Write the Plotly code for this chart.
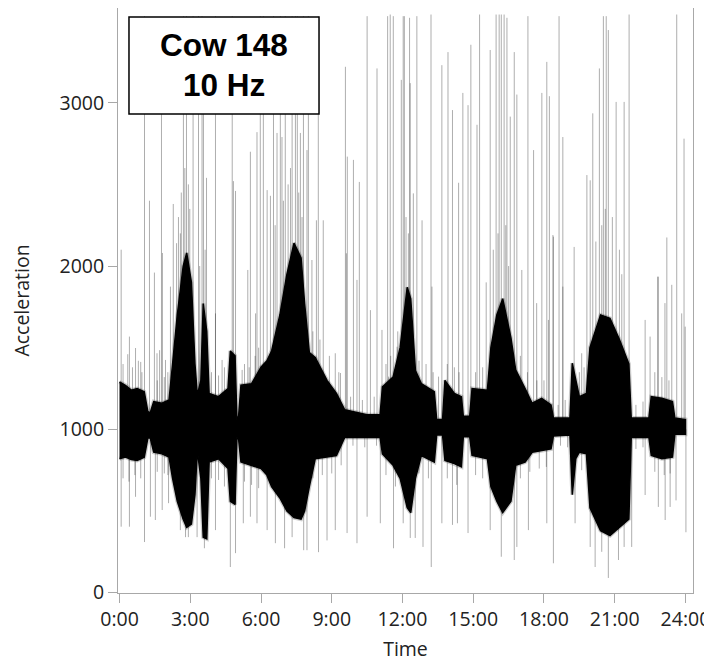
import plotly.graph_objects as go

# ---- data (hours of day, acceleration) ----
band_t = [0.00, 0.25, 0.50, 0.75, 1.05, 1.20, 1.30, 1.45, 1.80, 2.10, 2.25, 2.45, 2.70, 2.85, 3.05, 3.20,
          3.30, 3.45, 3.55, 3.70, 3.80, 4.20, 4.60, 4.70, 4.90, 4.98, 5.05, 5.15, 5.60, 6.00, 6.25, 6.45,
          6.80, 7.10, 7.40, 7.70, 7.85, 8.05, 8.30, 8.80, 9.20, 9.55, 10.50, 11.05, 11.15, 11.60, 11.90,
          12.20, 12.35, 12.55, 12.80, 13.35, 13.45, 13.70, 13.80, 14.20, 14.50, 14.58, 14.85, 14.95, 15.60,
          15.75, 16.00, 16.25, 16.60, 16.80, 17.20, 17.50, 17.90, 18.30, 18.40, 19.10, 19.20, 19.35, 19.50,
          19.80, 19.95, 20.40, 20.80, 21.20, 21.60, 21.70, 22.45, 22.55, 23.00, 23.45, 23.55, 24.00]
band_hi = [1290, 1270, 1240, 1250, 1230, 1110, 1100, 1170, 1160, 1180, 1400, 1700, 2000, 2080, 1900, 1400,
           1210, 1300, 1770, 1600, 1220, 1200, 1250, 1480, 1450, 1060, 1080, 1270, 1280, 1380, 1420, 1480,
           1700, 1950, 2140, 2050, 1770, 1470, 1440, 1300, 1220, 1120, 1090, 1090, 1260, 1320, 1500,
           1870, 1800, 1360, 1280, 1230, 1060, 1060, 1300, 1220, 1200, 1080, 1080, 1250, 1240,
           1500, 1700, 1800, 1560, 1364, 1250, 1160, 1190, 1150, 1070, 1070, 1405, 1300, 1200,
           1220, 1500, 1700, 1680, 1550, 1400, 1070, 1070, 1200, 1190, 1170, 1070, 1060]
band_lo = [820, 830, 815, 810, 830, 945, 950, 860, 850, 830, 700, 560, 450, 400, 420, 600,
           870, 700, 340, 330, 800, 820, 760, 560, 540, 950, 940, 800, 780, 760, 720, 650,
           580, 500, 460, 450, 500, 650, 820, 830, 840, 950, 950, 950, 850, 780, 700,
           520, 490, 700, 840, 800, 965, 965, 810, 790, 770, 955, 955, 840, 820,
           650, 560, 490, 560, 780, 800, 860, 870, 880, 960, 965, 600, 820, 860,
           850, 520, 380, 350, 400, 450, 950, 950, 840, 820, 830, 970, 970]

# tall spikes above the band
up_t = [0.07, 1.06, 1.27, 1.48, 1.78, 1.82, 2.28, 2.42, 2.58, 2.71, 2.84, 2.92, 3.12, 3.35, 3.50, 3.56,
        3.69, 4.07, 4.78, 4.83, 4.92, 5.55, 5.83, 5.97, 6.10, 6.26, 6.40, 6.53, 6.68, 6.82, 6.89, 7.03,
        7.32, 7.46, 7.54, 7.67, 7.80, 7.95, 8.01, 8.35, 8.43, 8.64, 9.58, 9.66, 9.92, 10.17, 10.50,
        10.92, 11.37, 11.48, 11.61, 11.95, 12.03, 12.08, 12.30, 12.33, 12.46, 12.61, 12.83, 13.21,
        13.67, 13.93, 14.12, 14.38, 14.56, 14.78, 14.90, 15.16, 15.27, 15.55, 15.72, 15.97, 16.10,
        16.19, 16.31, 16.43, 16.57, 16.74, 16.85, 17.32, 17.56, 17.91, 18.12, 18.23, 18.38, 18.64,
        18.80, 19.28, 19.82, 19.96, 20.07, 20.35, 20.52, 20.64, 20.73, 21.06, 21.40, 21.61, 22.85,
        23.21, 23.42, 23.63, 23.94,
        0.42, 0.68, 0.90, 1.59, 1.70, 1.95, 2.16, 4.07, 4.35, 5.20, 5.44, 5.77, 8.16, 9.15, 9.37,
        9.62, 10.07, 10.64, 11.13, 11.41, 11.77, 13.25, 13.53, 17.06, 17.69, 18.19, 18.40, 18.80,
        19.60, 22.29, 22.50, 22.82, 23.13, 23.84, 23.99,
        2.50, 2.62, 2.77, 2.98, 3.40, 3.63, 6.60, 6.95, 7.15, 7.25, 7.60, 7.74, 12.15, 12.25,
        15.85, 16.05, 16.38, 16.50, 20.20, 20.45, 20.60, 20.90, 21.20, 21.30]
up_v = [2100, 3530, 2400, 1960, 3300, 2080, 2380, 2140, 2200, 3530, 3530, 2500, 3530, 3530, 3530, 3400,
        2540, 3530, 3530, 2520, 2460, 2700, 2820, 3530, 3530, 2465, 2430, 3530, 2815, 3530, 2790, 3530,
        3530, 3530, 3530, 2815, 3530, 2710, 3530, 2280, 3530, 2280, 3220, 2670, 2650, 2515, 3530,
        3210, 3530, 3540, 3530, 3140, 3530, 3530, 3520, 3120, 2445, 3530, 2280, 3540,
        3230, 3310, 2955, 2510, 3060, 2985, 3355, 2865, 3540, 1900, 3323, 3540, 3540,
        3540, 3540, 3520, 2915, 3310, 3050, 3530, 2710, 3060, 3250, 3040, 2190, 3530,
        2790, 2117, 2557, 2525, 2935, 3210, 3530, 3530, 3445, 3005, 3005, 3540, 1935,
        2175, 1885, 3540, 2780,
        1568, 1498, 1413, 1466, 1485, 1425, 1874, 1710, 1425, 1364, 1976, 1710, 2037, 1466, 1345,
        2078, 1915, 1730, 1609, 1323, 1506, 1874, 1323, 1976, 1773, 1670, 2180, 1874,
        1466, 1670, 1568, 1935, 1773, 1710, 1629,
        2300, 2450, 2600, 2350, 2000, 2100, 2250, 2400, 2500, 2600, 2450, 2300, 2300, 2200,
        2100, 2200, 2250, 2000, 2150, 2250, 2350, 2300, 2100, 1950]

# short fringe spikes just above the band
fringe_up_t = [0.15, 0.35, 0.55, 0.80, 0.95, 1.60, 1.90, 2.05, 3.90, 4.20, 4.45, 5.30, 5.50, 5.75, 5.90,
               8.20, 8.50, 8.90, 9.30, 9.80, 10.30, 10.80, 11.30, 11.50, 11.80, 12.70, 13.00, 13.30,
               13.90, 14.20, 14.40, 15.10, 15.40, 17.00, 17.30, 17.70, 18.00, 18.60, 18.90, 19.50, 19.70,
               21.90, 22.20, 22.70, 23.00, 23.30]
fringe_up_v = [1400, 1460, 1380, 1420, 1350, 1300, 1320, 1350, 1350, 1330, 1380, 1400, 1380, 1450, 1500,
               1600, 1550, 1450, 1350, 1200, 1180, 1200, 1400, 1450, 1600, 1420, 1400, 1350,
               1400, 1380, 1350, 1350, 1380, 1450, 1350, 1300, 1300, 1150, 1180, 1350, 1380,
               1150, 1170, 1350, 1320, 1300]

# deep spikes below the band
down_t = [0.07, 0.42, 0.68, 1.06, 1.31, 1.52, 1.81, 2.08, 2.58, 2.80, 2.92, 3.29, 3.60, 4.07, 4.70,
          4.92, 5.25, 5.55, 5.83, 6.26, 6.61, 7.00, 7.32, 7.81, 7.95, 8.44, 8.80, 9.15, 9.65, 10.07,
          10.50, 11.06, 11.62, 12.03, 12.33, 12.54, 12.87, 13.22, 13.67, 14.12, 14.33, 14.78, 15.72,
          16.19, 16.74, 16.85, 17.34, 18.12, 18.40, 19.32, 19.96, 20.17, 20.45, 20.73, 21.16, 21.40,
          21.72, 22.29, 22.85, 23.14, 23.35, 23.60, 24.02]
down_v = [404, 404, 587, 310, 465, 445, 506, 548, 383, 340, 340, 340, 272, 383, 157,
          242, 425, 465, 425, 383, 303, 272, 340, 260, 260, 248, 320, 383, 365, 303,
          465, 425, 272, 425, 335, 335, 280, 157, 425, 415, 425, 365, 383,
          220, 200, 280, 383, 425, 180, 425, 280, 157, 250, 90, 200, 280,
          280, 598, 525, 445, 525, 565, 370]

# short fringe spikes just below the band
fringe_dn_t = [0.15, 0.40, 0.65, 0.90, 1.60, 1.90, 2.05, 3.90, 4.20, 4.45, 5.30, 5.60, 5.90, 8.20, 8.60,
               9.00, 9.40, 9.90, 10.40, 10.90, 11.30, 11.70, 12.70, 13.10, 13.90, 14.30, 15.10, 15.40,
               17.00, 17.40, 17.80, 18.10, 18.70, 19.00, 19.60, 21.90, 22.20, 22.70, 23.10, 23.35]
fringe_dn_v = [700, 680, 720, 700, 740, 730, 720, 700, 690, 650, 680, 660, 640, 700, 720,
               730, 780, 900, 890, 900, 720, 650, 730, 700, 700, 660, 720, 700,
               700, 740, 760, 770, 900, 890, 750, 880, 890, 740, 720, 730]

x_ticks = [0, 3, 6, 9, 12, 15, 18, 21, 24]
x_labels = ["0:00", "3:00", "6:00", "9:00", "12:00", "15:00", "18:00", "21:00", "24:00"]
y_ticks = [0, 1000, 2000, 3000]
spike_base = 1000

fig = go.Figure()

# spikes
sx, sy = [], []
for ts, vs in ((up_t, up_v), (fringe_up_t, fringe_up_v), (down_t, down_v), (fringe_dn_t, fringe_dn_v)):
    for t, v in zip(ts, vs):
        sx += [t, t, None]
        sy += [spike_base, v, None]
fig.add_trace(go.Scatter(x=sx, y=sy, mode="lines",
                         line=dict(color="rgba(0,0,0,0.32)", width=1),
                         hoverinfo="skip", showlegend=False))

poly_x = band_t + band_t[::-1]
poly_y = band_hi + band_lo[::-1]
# soft edge around the dense band
fig.add_trace(go.Scatter(x=poly_x, y=poly_y, mode="lines",
                         line=dict(color="rgba(0,0,0,0.2)", width=4),
                         hoverinfo="skip", showlegend=False))
# dense core band
fig.add_trace(go.Scatter(x=poly_x, y=poly_y, mode="lines", fill="toself", fillcolor="black",
                         line=dict(color="black", width=1.5),
                         hoverinfo="skip", showlegend=False))

axis_gray = "#a8a8a8"
txt = "#222222"
font_fam = "Open Sans, Noto Sans, DejaVu Sans, sans-serif"
fig.update_layout(
    width=704, height=654,
    margin=dict(l=110, r=19, t=0, b=69, pad=0),
    paper_bgcolor="white", plot_bgcolor="white",
    font=dict(family=font_fam, size=19.5, color=txt),
    xaxis=dict(range=[-0.064, 24.32], tickvals=x_ticks, ticktext=x_labels,
               showgrid=False, zeroline=False, showline=True, linecolor=axis_gray,
               linewidth=1, mirror=True, ticks="outside", ticklen=9, tickcolor=axis_gray,
               tickfont=dict(size=19.5, color=txt),
               title=dict(text="Time", font=dict(size=19.5, color=txt), standoff=11)),
    yaxis=dict(range=[-2, 3580], tickvals=y_ticks,
               showgrid=False, zeroline=False, showline=True, linecolor=axis_gray,
               linewidth=1, mirror=True, ticks="outside", ticklen=9, tickcolor=axis_gray,
               tickfont=dict(size=19.5, color=txt),
               title=dict(text="Acceleration", font=dict(size=19.5, color=txt), standoff=28)),
    shapes=[dict(type="rect", xref="paper", yref="paper",
                 x0=0.0191, x1=0.3496, y0=0.8188, y1=0.9846,
                 line=dict(color="black", width=1.5), fillcolor="white", layer="above")],
    annotations=[
        dict(text="<b>Cow 148</b>", xref="paper", yref="paper", x=0.1843, y=0.9368,
             showarrow=False, xanchor="center", yanchor="middle",
             font=dict(family="Liberation Sans, Arial, sans-serif", size=31.5, color="black")),
        dict(text="<b>10 Hz</b>", xref="paper", yref="paper", x=0.1843, y=0.8684,
             showarrow=False, xanchor="center", yanchor="middle",
             font=dict(family="Liberation Sans, Arial, sans-serif", size=31.5, color="black")),
    ],
)

fig.write_html("out.html")
